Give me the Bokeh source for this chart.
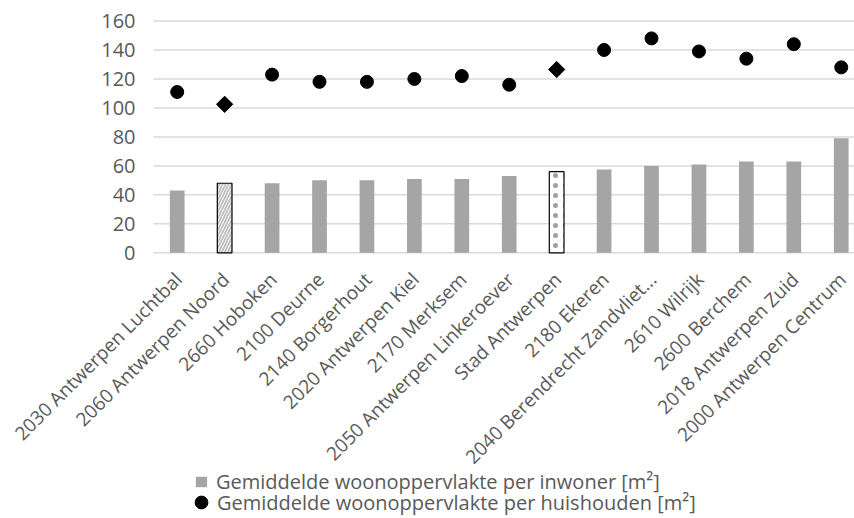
import numpy as np
from bokeh.plotting import figure
from bokeh.models import (ColumnDataSource, Legend, LegendItem, Range1d)
from bokeh.core.properties import value
from bokeh.embed import file_html
from bokeh.resources import INLINE

# Districts (sorted by living area per inhabitant)
districts = [
    "2030 Antwerpen Luchtbal", "2060 Antwerpen Noord", "2660 Hoboken",
    "2100 Deurne", "2140 Borgerhout", "2020 Antwerpen Kiel", "2170 Merksem",
    "2050 Antwerpen Linkeroever", "Stad Antwerpen", "2180 Ekeren",
    "2040 Berendrecht Zandvliet...", "2610 Wilrijk", "2600 Berchem",
    "2018 Antwerpen Zuid", "2000 Antwerpen Centrum",
]
per_inwoner = [43, 48, 48, 50, 50, 51, 51, 53, 56, 57.5, 60, 61, 63, 63, 79]
per_huishouden = [111, 102.5, 123, 118, 118, 120, 122, 116, 126.5, 140, 148,
                  139, 134, 144, 128]
hatched_idx = [1]      # 2060 Antwerpen Noord
dotted_idx = [8]       # Stad Antwerpen
y_ticks = [0, 20, 40, 60, 80, 100, 120, 140, 160]
y_tick_labels = [str(t) for t in y_ticks]

FONT = value("Open Sans")
TXT = "#595959"
BAR = "#A5A5A5"
GRID = "#D9D9D9"

W, H = 854, 518
LEFT, TOP = 153, 20.5               # plotting area starts here
Y_MAX = 160
PLOT_H = 231.8                      # pixels between 0 and 160
px_per_unit = PLOT_H / Y_MAX
y_top = Y_MAX + TOP / px_per_unit
y_min = -(H - TOP - PLOT_H) / px_per_unit   # room below 0 for labels & legend
n = len(districts)
px_per_cat = 47.43
x_left = -0.5
x_min = x_left - LEFT / px_per_cat           # room left of the bars for tick labels
x_max = x_left + (W - LEFT) / px_per_cat

x = list(range(n))
special = sorted(set(hatched_idx + dotted_idx))
normal_idx = [i for i in x if i not in special]


def pick(idx):
    return ColumnDataSource(dict(
        x=[x[i] for i in idx],
        inw=[per_inwoner[i] for i in idx],
        hh=[per_huishouden[i] for i in idx],
    ))


p = figure(width=W, height=H, output_backend="svg", toolbar_location=None,
           x_range=Range1d(x_min, x_max), y_range=Range1d(y_min, y_top),
           min_border=0)
p.outline_line_color = None
p.background_fill_color = "white"
p.border_fill_color = "white"
p.xaxis.visible = False
p.yaxis.visible = False
p.grid.visible = False

# horizontal gridlines (0 doubles as the category baseline)
p.segment(x0=[x_left] * len(y_ticks), x1=[x_max] * len(y_ticks),
          y0=y_ticks, y1=y_ticks, line_color=GRID, line_width=1.5)

# value-axis labels
p.text(x=[x_left - 18 / px_per_cat] * len(y_ticks), y=y_ticks,
       text=y_tick_labels, text_align="right", text_baseline="middle",
       text_font=FONT, text_font_size="20px", text_color=TXT)

bw = 0.31
r_bar = p.vbar(x="x", top="inw", width=bw, source=pick(normal_idx),
               fill_color=BAR, line_color=None)
p.vbar(x="x", top="inw", width=bw, source=pick(hatched_idx),
       fill_color="white", line_color="black", line_width=1.2,
       hatch_pattern="right_diagonal_line", hatch_color="#BDBDBD",
       hatch_scale=6, hatch_weight=1.8)
p.vbar(x="x", top="inw", width=bw, source=pick(dotted_idx),
       fill_color="white", line_color="black", line_width=1.2,
       hatch_pattern="dot", hatch_color="#A0A0A0", hatch_scale=10,
       hatch_weight=0.5)

r_pt = p.scatter(x="x", y="hh", source=pick(normal_idx), marker="circle",
                 size=13, fill_color="black", line_color="black")
p.scatter(x="x", y="hh", source=pick(special), marker="square",
          angle=np.pi / 4, size=11.5, fill_color="black", line_color="black")

# category labels, rotated, hanging from the baseline
lab = ColumnDataSource(dict(
    x=[i - 8 / px_per_cat for i in x],
    y=[-14 / px_per_unit] * n,
    text=districts,
))
p.text(x="x", y="y", text="text", source=lab, angle=np.pi / 4,
       text_align="right", text_baseline="top", text_font=FONT,
       text_font_size="19px", text_color=TXT)


def make_legend(label, renderer, glyph, loc, standoff):
    lg = Legend(items=[LegendItem(label=label, renderers=[renderer])],
                location=loc, orientation="vertical")
    lg.label_text_font = "Open Sans"
    lg.label_text_font_size = "20px"
    lg.label_text_color = TXT
    lg.glyph_width, lg.glyph_height = glyph
    lg.label_standoff = standoff
    lg.spacing = 0
    lg.padding = 0
    lg.margin = 0
    lg.border_line_color = None
    lg.background_fill_alpha = 0
    return lg


p.add_layout(make_legend("Gemiddelde woonoppervlakte per inwoner [m²]",
                         r_bar, (14, 13), (LEFT + 41, 23), 8))
p.add_layout(make_legend("Gemiddelde woonoppervlakte per huishouden [m²]",
                         r_pt, (32, 32), (LEFT + 32, 0), -2))

open("out.html", "w").write(file_html(p, INLINE))
